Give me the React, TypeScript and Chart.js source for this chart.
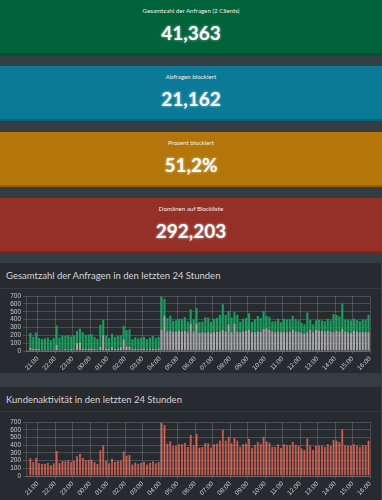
import React, { useEffect, useRef } from 'react';
import { Chart, registerables } from 'chart.js';

Chart.register(...registerables);

// Time axis: minutes since midnight of the first day (20:20 -> 16:00 next day), 10‑minute slots
const startMinute = 1220;
const endMinute = 2400;
const slotMinutes = 10;

const statTitles = ['Gesamtzahl der Anfragen (2 Clients)', 'Abfragen blockiert', 'Prozent blockiert', 'Domänen auf Blockliste'];
const statValues = ['41,363', '21,162', '51,2%', '292,203'];
const statColors = ['#00633a', '#0a7a98', '#b4760b', '#943027'];

const chartTitles = ['Gesamtzahl der Anfragen in den letzten 24 Stunden', 'Kundenaktivität in den letzten 24 Stunden'];
const yTicks = [0, 100, 200, 300, 400, 500, 600, 700];

const blockedQueries = [
  5, 45, 30, 30, 25, 20, 20, 20, 15, 20,
  80, 20, 20, 25, 20, 25, 20, 100, 110, 30,
  25, 30, 35, 25, 20, 50, 200, 30, 25, 50,
  25, 30, 50, 150, 60, 55, 25, 30, 25, 30,
  25, 20, 25, 30, 30, 35,
  270, 450, 250, 260, 250, 250, 255, 250, 260, 240,
  350, 250, 350, 230, 240, 235, 240, 230, 240, 245,
  250, 270, 250, 340, 240, 350, 250, 240, 250, 255,
  270, 240, 240, 250, 245, 280, 290, 270, 250, 240,
  250, 240, 245, 240, 245, 270, 250, 245, 235, 225,
  240, 275, 240, 270, 260, 255, 250, 255, 250, 240,
  260, 250, 280, 250, 240, 230, 255, 250, 240, 245,
  240, 240,
];

const permittedQueries = [
  5, 185, 150, 205, 140, 135, 140, 150, 125, 145,
  245, 150, 175, 165, 185, 160, 175, 155, 175, 205,
  180, 180, 180, 155, 135, 285, 200, 165, 140, 170,
  155, 165, 150, 170, 205, 220, 125, 145, 135, 140,
  155, 130, 145, 160, 135, 145,
  420, 215, 170, 190, 135, 140, 155, 160, 170, 135,
  180, 150, 195, 140, 135, 195, 185, 140, 170, 175,
  210, 325, 210, 170, 185, 145, 210, 135, 160, 165,
  210, 130, 165, 195, 175, 230, 160, 165, 125, 140,
  160, 125, 165, 160, 155, 175, 155, 145, 125, 115,
  250, 120, 100, 120, 135, 135, 130, 155, 140, 230,
  200, 190, 325, 150, 155, 160, 155, 145, 140, 155,
  160, 220,
];

const clientActivity = [
  10, 230, 180, 235, 165, 155, 160, 170, 140, 165,
  325, 170, 195, 190, 205, 185, 195, 255, 285, 235,
  205, 210, 215, 180, 155, 335, 400, 195, 165, 220,
  180, 195, 200, 320, 265, 275, 150, 175, 160, 170,
  180, 150, 170, 190, 165, 180,
  690, 665, 420, 450, 385, 390, 410, 410, 430, 375,
  530, 400, 545, 370, 375, 430, 425, 370, 410, 420,
  460, 595, 460, 510, 425, 495, 460, 375, 410, 420,
  480, 370, 405, 445, 420, 510, 450, 435, 375, 380,
  410, 365, 410, 400, 400, 445, 405, 390, 360, 340,
  490, 395, 340, 390, 395, 390, 380, 410, 390, 470,
  460, 440, 605, 400, 395, 390, 410, 395, 380, 400,
  400, 460,
];

const slotCenter = (i: number) => startMinute + slotMinutes / 2 + i * slotMinutes;
const toPoints = (arr: number[]) => arr.map((v, i) => ({ x: slotCenter(i), y: v }));

const tickFont = { family: 'Liberation Sans', size: 6.5 };
const tickColor = '#c8c8c8';
const gridColor = 'rgba(255,255,255,0.17)';

function makeOptions(padTop: number): any {
  return {
    animation: false,
    responsive: true,
    maintainAspectRatio: false,
    layout: { padding: { top: padTop, right: 8, left: 0, bottom: 0 } },
    plugins: { legend: { display: false }, tooltip: { enabled: false }, title: { display: false } },
    scales: {
      x: {
        type: 'linear',
        stacked: true,
        offset: false,
        min: startMinute,
        max: endMinute,
        grid: { color: gridColor, offset: false, tickLength: 3 },
        border: { color: gridColor },
        afterFit: (s: any) => { s.height = 22; },
        ticks: {
          stepSize: 60,
          includeBounds: false,
          autoSkip: false,
          minRotation: 45,
          maxRotation: 45,
          padding: 1,
          color: tickColor,
          font: tickFont,
          callback: (v: number) => {
            const h = Math.floor(v / 60) % 24;
            return (h < 10 ? '0' : '') + h + ':00';
          },
        },
      },
      y: {
        stacked: true,
        min: 0,
        max: 700,
        afterFit: (s: any) => { s.width = 22; },
        afterBuildTicks: (s: any) => { s.ticks = yTicks.map((v) => ({ value: v })); },
        grid: { color: gridColor, tickLength: 3 },
        border: { color: gridColor },
        ticks: { color: tickColor, font: tickFont, padding: 2, autoSkip: false },
      },
    },
  };
}

function ChartBox({ config, style }: { config: any; style: React.CSSProperties }) {
  const ref = useRef<HTMLCanvasElement | null>(null);
  useEffect(() => {
    if (!ref.current) return;
    const chart = new Chart(ref.current, config);
    return () => chart.destroy();
  }, []);
  return (
    <div style={{ position: 'absolute', ...style }}>
      <canvas ref={ref} />
    </div>
  );
}

const queriesConfig = {
  type: 'bar',
  data: {
    datasets: [
      { label: 'Blockiert', data: toPoints(blockedQueries), backgroundColor: '#a6a6a6', barPercentage: 0.9, categoryPercentage: 0.8 },
      { label: 'Erlaubt', data: toPoints(permittedQueries), backgroundColor: '#14a35e', barPercentage: 0.9, categoryPercentage: 0.8 },
    ],
  },
  options: makeOptions(7),
};

const clientsConfig = {
  type: 'bar',
  data: {
    datasets: [
      { label: 'Clients', data: toPoints(clientActivity), backgroundColor: '#e6604d', borderColor: '#f2816f', borderWidth: 0.5, barPercentage: 0.9, categoryPercentage: 0.8 },
    ],
  },
  options: makeOptions(10),
};

const FONT = 'Lato, "Open Sans", sans-serif';

function StatBox({ top, i }: { top: number; i: number }) {
  return (
    <div style={{ position: 'absolute', left: 0, top, width: 382, height: 55, background: statColors[i], boxShadow: 'inset 0 -2px 0 rgba(0,0,0,0.18)', color: '#fff', fontFamily: FONT, textAlign: 'center' }}>
      <div style={{ position: 'absolute', left: 0, right: 0, top: 6, fontSize: 6.2, lineHeight: '10px', color: '#f0f0f0' }}>{statTitles[i]}</div>
      <div style={{ position: 'absolute', left: 0, right: 0, top: 22, fontSize: 19, lineHeight: '22px', fontWeight: 700, textShadow: '0 0 3px rgba(255,255,255,0.6)' }}>{statValues[i]}</div>
    </div>
  );
}

function Panel({ top, height, headerH, title }: { top: number; height: number; headerH: number; title: string }) {
  return (
    <div style={{ position: 'absolute', left: 0, top, width: 382, height, background: '#272b30', boxSizing: 'border-box', borderRight: '1px solid #3a4046' }}>
      <div style={{ height: headerH, boxSizing: 'border-box', borderBottom: '1px solid #353b41', paddingLeft: 6, lineHeight: `${headerH}px`, fontFamily: FONT, fontSize: 9.5, color: '#d4d4d4', whiteSpace: 'nowrap' }}>{title}</div>
    </div>
  );
}

export default function App() {
  useEffect(() => {
    document.body.style.margin = '0';
    document.body.style.background = '#353c42';
  }, []);
  return (
    <div style={{ position: 'relative', width: 382, height: 500, overflow: 'hidden', background: '#353c42' }}>
      <StatBox top={0} i={0} />
      <StatBox top={66} i={1} />
      <StatBox top={132} i={2} />
      <StatBox top={198} i={3} />
      <Panel top={263} height={110} headerH={26} title={chartTitles[0]} />
      <Panel top={387} height={113} headerH={25} title={chartTitles[1]} />
      <ChartBox config={queriesConfig} style={{ left: 4, top: 289, width: 374, height: 84 }} />
      <ChartBox config={clientsConfig} style={{ left: 4, top: 412, width: 374, height: 86 }} />
    </div>
  );
}
